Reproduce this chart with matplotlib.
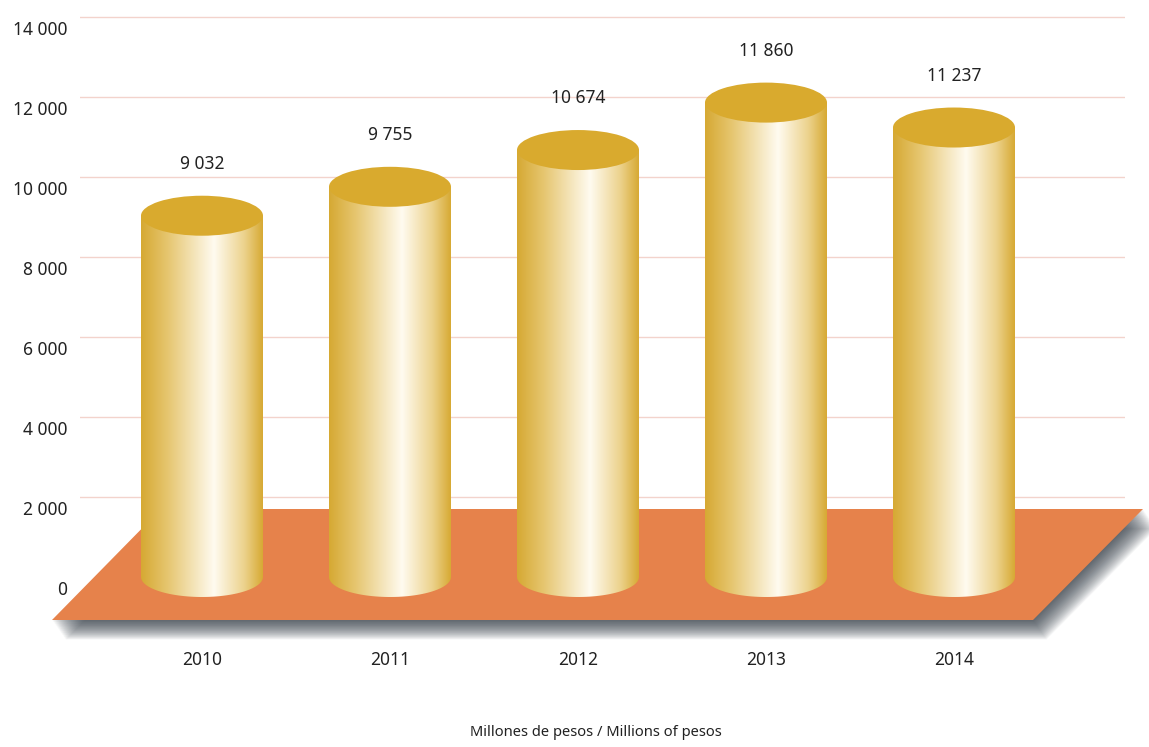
import numpy as np
import matplotlib
matplotlib.use('Agg')
import matplotlib.pyplot as plt
from matplotlib.patches import Polygon, Ellipse, PathPatch
from matplotlib.path import Path
from matplotlib.colors import LinearSegmentedColormap
from matplotlib.transforms import ScaledTranslation

years = ['2010', '2011', '2012', '2013', '2014']
values = [9032, 9755, 10674, 11860, 11237]
y_ticks = [0, 2000, 4000, 6000, 8000, 10000, 12000, 14000]
footer = 'Millones de pesos / Millions of pesos'

plt.rcParams['font.family'] = ['Noto Sans', 'DejaVu Sans']
plt.rcParams['font.stretch'] = 'condensed'

W, H = 1149, 747
fig = plt.figure(figsize=(W / 100, H / 100), dpi=100)
ax = fig.add_axes([80 / W, 0, 1045 / W, 1])

# one category step is 188 px, 2000 units is 80 px
XS, YS = 1 / 188, 25.0
TXT = '#222222'


def fmt(n):
    return f'{n:,}'.replace(',', ' ')


def to_data(xp, yp):
    return ((xp - 202) * XS, (577 - yp) * YS)


# floor with a soft drop shadow
floor = np.array([to_data(52, 620), to_data(161, 509),
                  to_data(1143, 509), to_data(1033, 620)])
for k in range(1, 31):
    shift = np.array([0.45 * k * XS, -0.65 * k * YS])
    ax.add_patch(Polygon(floor + shift, closed=True, facecolor='#2c3640',
                         edgecolor='none', alpha=0.04, zorder=1,
                         clip_on=False))
ax.add_patch(Polygon(floor, closed=True, facecolor='#e6824b',
                     edgecolor='none', zorder=2, clip_on=False))

# cylinders
body_cmap = LinearSegmentedColormap.from_list(
    'body', [(0, '#d6a933'), (0.22, '#e6c670'), (0.6, '#fffbf0'),
             (0.85, '#ecd28c'), (1, '#d7aa34')])
grad = np.linspace(0, 1, 256).reshape(1, -1)
r = 61 * XS
b = 20 * YS
t = np.linspace(0, -np.pi, 60)
for i, v in enumerate(values):
    arc = np.column_stack([i + r * np.cos(t), b * np.sin(t)])
    verts = np.vstack([arc, [[i - r, v], [i + r, v], [i + r, 0]]])
    clip = PathPatch(Path(verts, closed=False), transform=ax.transData,
                     facecolor='none', edgecolor='none')
    ax.add_patch(clip)
    im = ax.imshow(grad, cmap=body_cmap, extent=(i - r, i + r, -b, v),
                   aspect='auto', interpolation='bicubic', zorder=3)
    im.set_clip_path(clip)
    ax.add_patch(Ellipse((i, v), 2 * r, 2 * b, facecolor='#d9aa2e',
                         edgecolor='none', zorder=4))
    ax.text(i, v + 1300, fmt(v), ha='center', va='center',
            fontsize=12.5, color=TXT)
    ax.text(i, (577 - 660) * YS, years[i], ha='center', va='center',
            fontsize=12.5, color=TXT)

ax.set_xlim((80 - 202) * XS, (1125 - 202) * XS)
ax.set_ylim(-(H - 577) * YS, 577 * YS)

ax.set_yticks(y_ticks)
ax.set_yticklabels([fmt(v) for v in y_ticks])
ax.tick_params(axis='y', length=0, pad=9, labelsize=12.5, labelcolor=TXT)
ax.set_xticks([])
ax.grid(axis='y', color='#f3d3cc', linewidth=1.0, zorder=0)
ax.set_axisbelow(True)
ax.yaxis.get_gridlines()[0].set_visible(False)
for s in ax.spines.values():
    s.set_visible(False)

offset = ScaledTranslation(0, -11 / 100, fig.dpi_scale_trans)
for lab in ax.get_yticklabels():
    lab.set_transform(lab.get_transform() + offset)

fig.text(596 / W, 1 - 733 / H, footer, ha='center', va='center',
         fontsize=10.6, color=TXT)

fig.savefig('out.png', dpi=100)
